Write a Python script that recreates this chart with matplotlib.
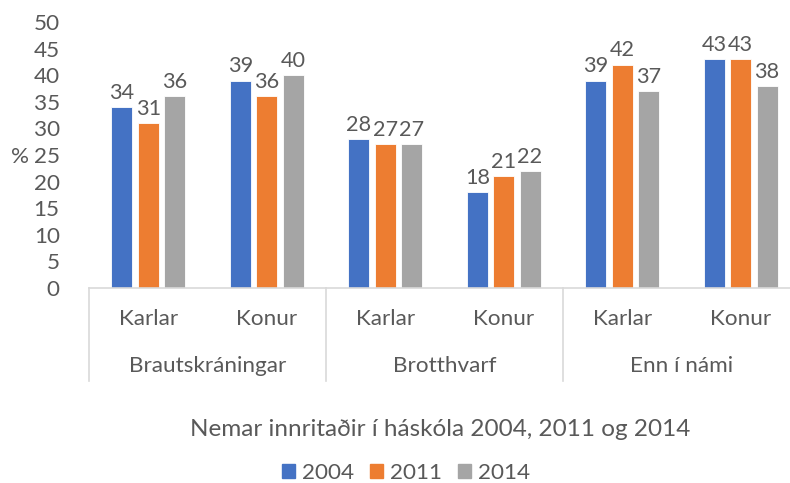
import matplotlib
matplotlib.use("Agg")
import matplotlib.pyplot as plt
import matplotlib.transforms as mtransforms
import numpy as np

plt.rcParams['font.family'] = ['Lato', 'DejaVu Sans']

groups = ["Brautskráningar", "Brotthvarf", "Enn í námi"]
subcats = ["Karlar", "Konur", "Karlar", "Konur", "Karlar", "Konur"]
series_names = ["2004", "2011", "2014"]
v2004 = [34, 39, 28, 18, 39, 43]
v2011 = [31, 36, 27, 21, 42, 43]
v2014 = [36, 40, 27, 22, 37, 38]
colors = ["#4472C4", "#ED7D31", "#A5A5A5"]
title = "Nemar innritaðir í háskóla 2004, 2011 og 2014"
ylabel = "%"

TXT = "#595959"
FS = 16.2
W, H = 790, 483
fig = plt.figure(figsize=(W / 100, H / 100), dpi=100)
left, right, bottom, top = 89, 800, 288, 22
ax = fig.add_axes([left / W, (H - bottom) / H, (right - left) / W, (bottom - top) / H])

x = np.arange(len(subcats)) + 0.5
bw = 0.178
pitch = 0.222
for i, (vals, c, name) in enumerate(zip([v2004, v2011, v2014], colors, series_names)):
    xs = x + (i - 1) * pitch
    ax.bar(xs, vals, width=bw, color=c, edgecolor="white", linewidth=0.6, label=name)
    for xi, v in zip(xs, vals):
        ax.annotate(str(v), (xi, v), xytext=(0, 6), textcoords="offset points",
                    ha="center", va="baseline", fontsize=15.6, color=TXT)

ax.set_xlim(0, 6)
ax.set_ylim(0, 50)
ax.set_yticks(np.arange(0, 51, 5))
ax.tick_params(axis="y", length=0, labelsize=FS, labelcolor=TXT, pad=21)
ax.set_xticks([])
for s in ["top", "right", "left"]:
    ax.spines[s].set_visible(False)
ax.spines["bottom"].set_color("#D9D9D9")
ax.spines["bottom"].set_linewidth(1.2)

trans = mtransforms.blended_transform_factory(ax.transData, ax.transAxes)
px = 1.0 / (bottom - top)
for xs in [0, 2, 4, 6]:
    ax.plot([xs, xs], [0, -(381 - 288) * px], transform=trans, color="#D9D9D9",
            linewidth=1.2, clip_on=False)
for xi, lab in zip(x, subcats):
    ax.text(xi, -(319 - 288) * px, lab, transform=trans, ha="center", va="center",
            fontsize=FS, color=TXT)
for gi, g in enumerate(groups):
    ax.text(2 * gi + 1, -(366 - 288) * px, g, transform=trans, ha="center", va="center",
            fontsize=FS, color=TXT)

fig.text(20 / W, 1 - 157 / H, ylabel, ha="center", va="center", fontsize=FS, color=TXT)
fig.text(440 / W, 1 - 430 / H, title, ha="center", va="center", fontsize=17.5, color=TXT)

handles = [plt.Rectangle((0, 0), 1, 1, color=c) for c in colors]
fig.legend(handles, series_names, loc="center", bbox_to_anchor=(406 / W, 1 - 473 / H),
           ncol=3, frameon=False, fontsize=FS, labelcolor=TXT, handlelength=0.6,
           handleheight=0.6, handletextpad=0.3, columnspacing=0.7)

fig.savefig("out.png", dpi=100)
